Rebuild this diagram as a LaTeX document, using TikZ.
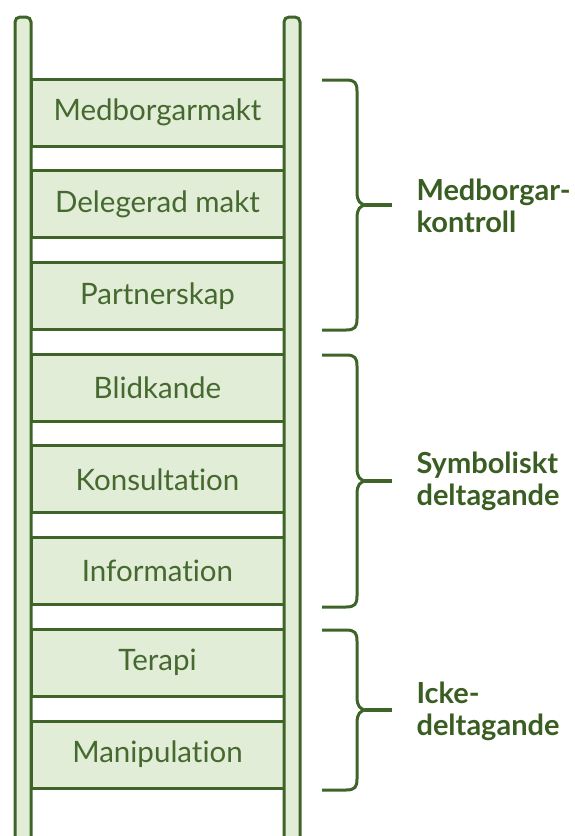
\documentclass[tikz,border=0pt]{standalone}
\usepackage{fontspec}
\setmainfont{Lato}[Ligatures={NoCommon}]
\definecolor{dkgreen}{HTML}{3F6428}
\definecolor{ltgreen}{HTML}{E1EDD7}
\definecolor{txtgreen}{HTML}{46692F}
\definecolor{lblgreen}{HTML}{3A5E22}
\begin{document}
\begin{tikzpicture}[x=1pt,y=-1pt,
  rung/.style={draw=dkgreen,line width=3pt,fill=ltgreen,minimum width=253pt,minimum height=67pt,inner sep=0pt,
    font=\fontsize{29.5}{34}\selectfont,text=txtgreen},
  rail/.style={draw=dkgreen,line width=3pt,fill=ltgreen,rounded corners=5pt},
  brace/.style={draw=dkgreen,line width=3pt},
  grp/.style={anchor=west,align=left,font=\fontsize{29}{32}\selectfont\bfseries,text=lblgreen}]
\useasboundingbox (0,0) rectangle (575,836);
% rungs
\foreach \t/\lab/\nm [count=\i] in {80/Medborgarmakt/r1,171.7/Delegerad makt/r2,263.4/Partnerskap/r3,355/Blidkande/r4,446.8/Konsultation/r5,538.5/Information/r6,630/Terapi/r7,722/Manipulation/r8}{
  \node[rung] (\nm) at (157.5,\t+32.5) {\lab};
}
% rails
\draw[rail] (15,860) -- (15,17) -- (31,17) -- (31,860);
\draw[rail] (284,860) -- (284,17) -- (300,17) -- (300,860);
% braces
\foreach \a/\b/\nm in {80/330/b1,355/607/b2,630/790/b3}{
  \pgfmathsetmacro{\m}{(\a+\b)/2}
  \coordinate (\nm) at (392,\m);
  \draw[brace] (322,\a) -- (346,\a) .. controls (355,\a) and (357,\a+3) .. (357,\a+11)
     -- (357,\m-13) .. controls (357,\m-4) and (360,\m) .. (367,\m)
     .. controls (360,\m) and (357,\m+4) .. (357,\m+13)
     -- (357,\b-11) .. controls (357,\b-3) and (355,\b) .. (346,\b) -- (322,\b);
  \draw[brace,line width=4pt] (365,\m) -- (\nm);
}
\node[grp] (g1) at (413,206) {Medborgar-\\kontroll};
\node[grp] (g2) at (413,481) {Symboliskt\\deltagande};
\node[grp] (g3) at (413,711) {Icke-\\deltagande};
\end{tikzpicture}
\end{document}
